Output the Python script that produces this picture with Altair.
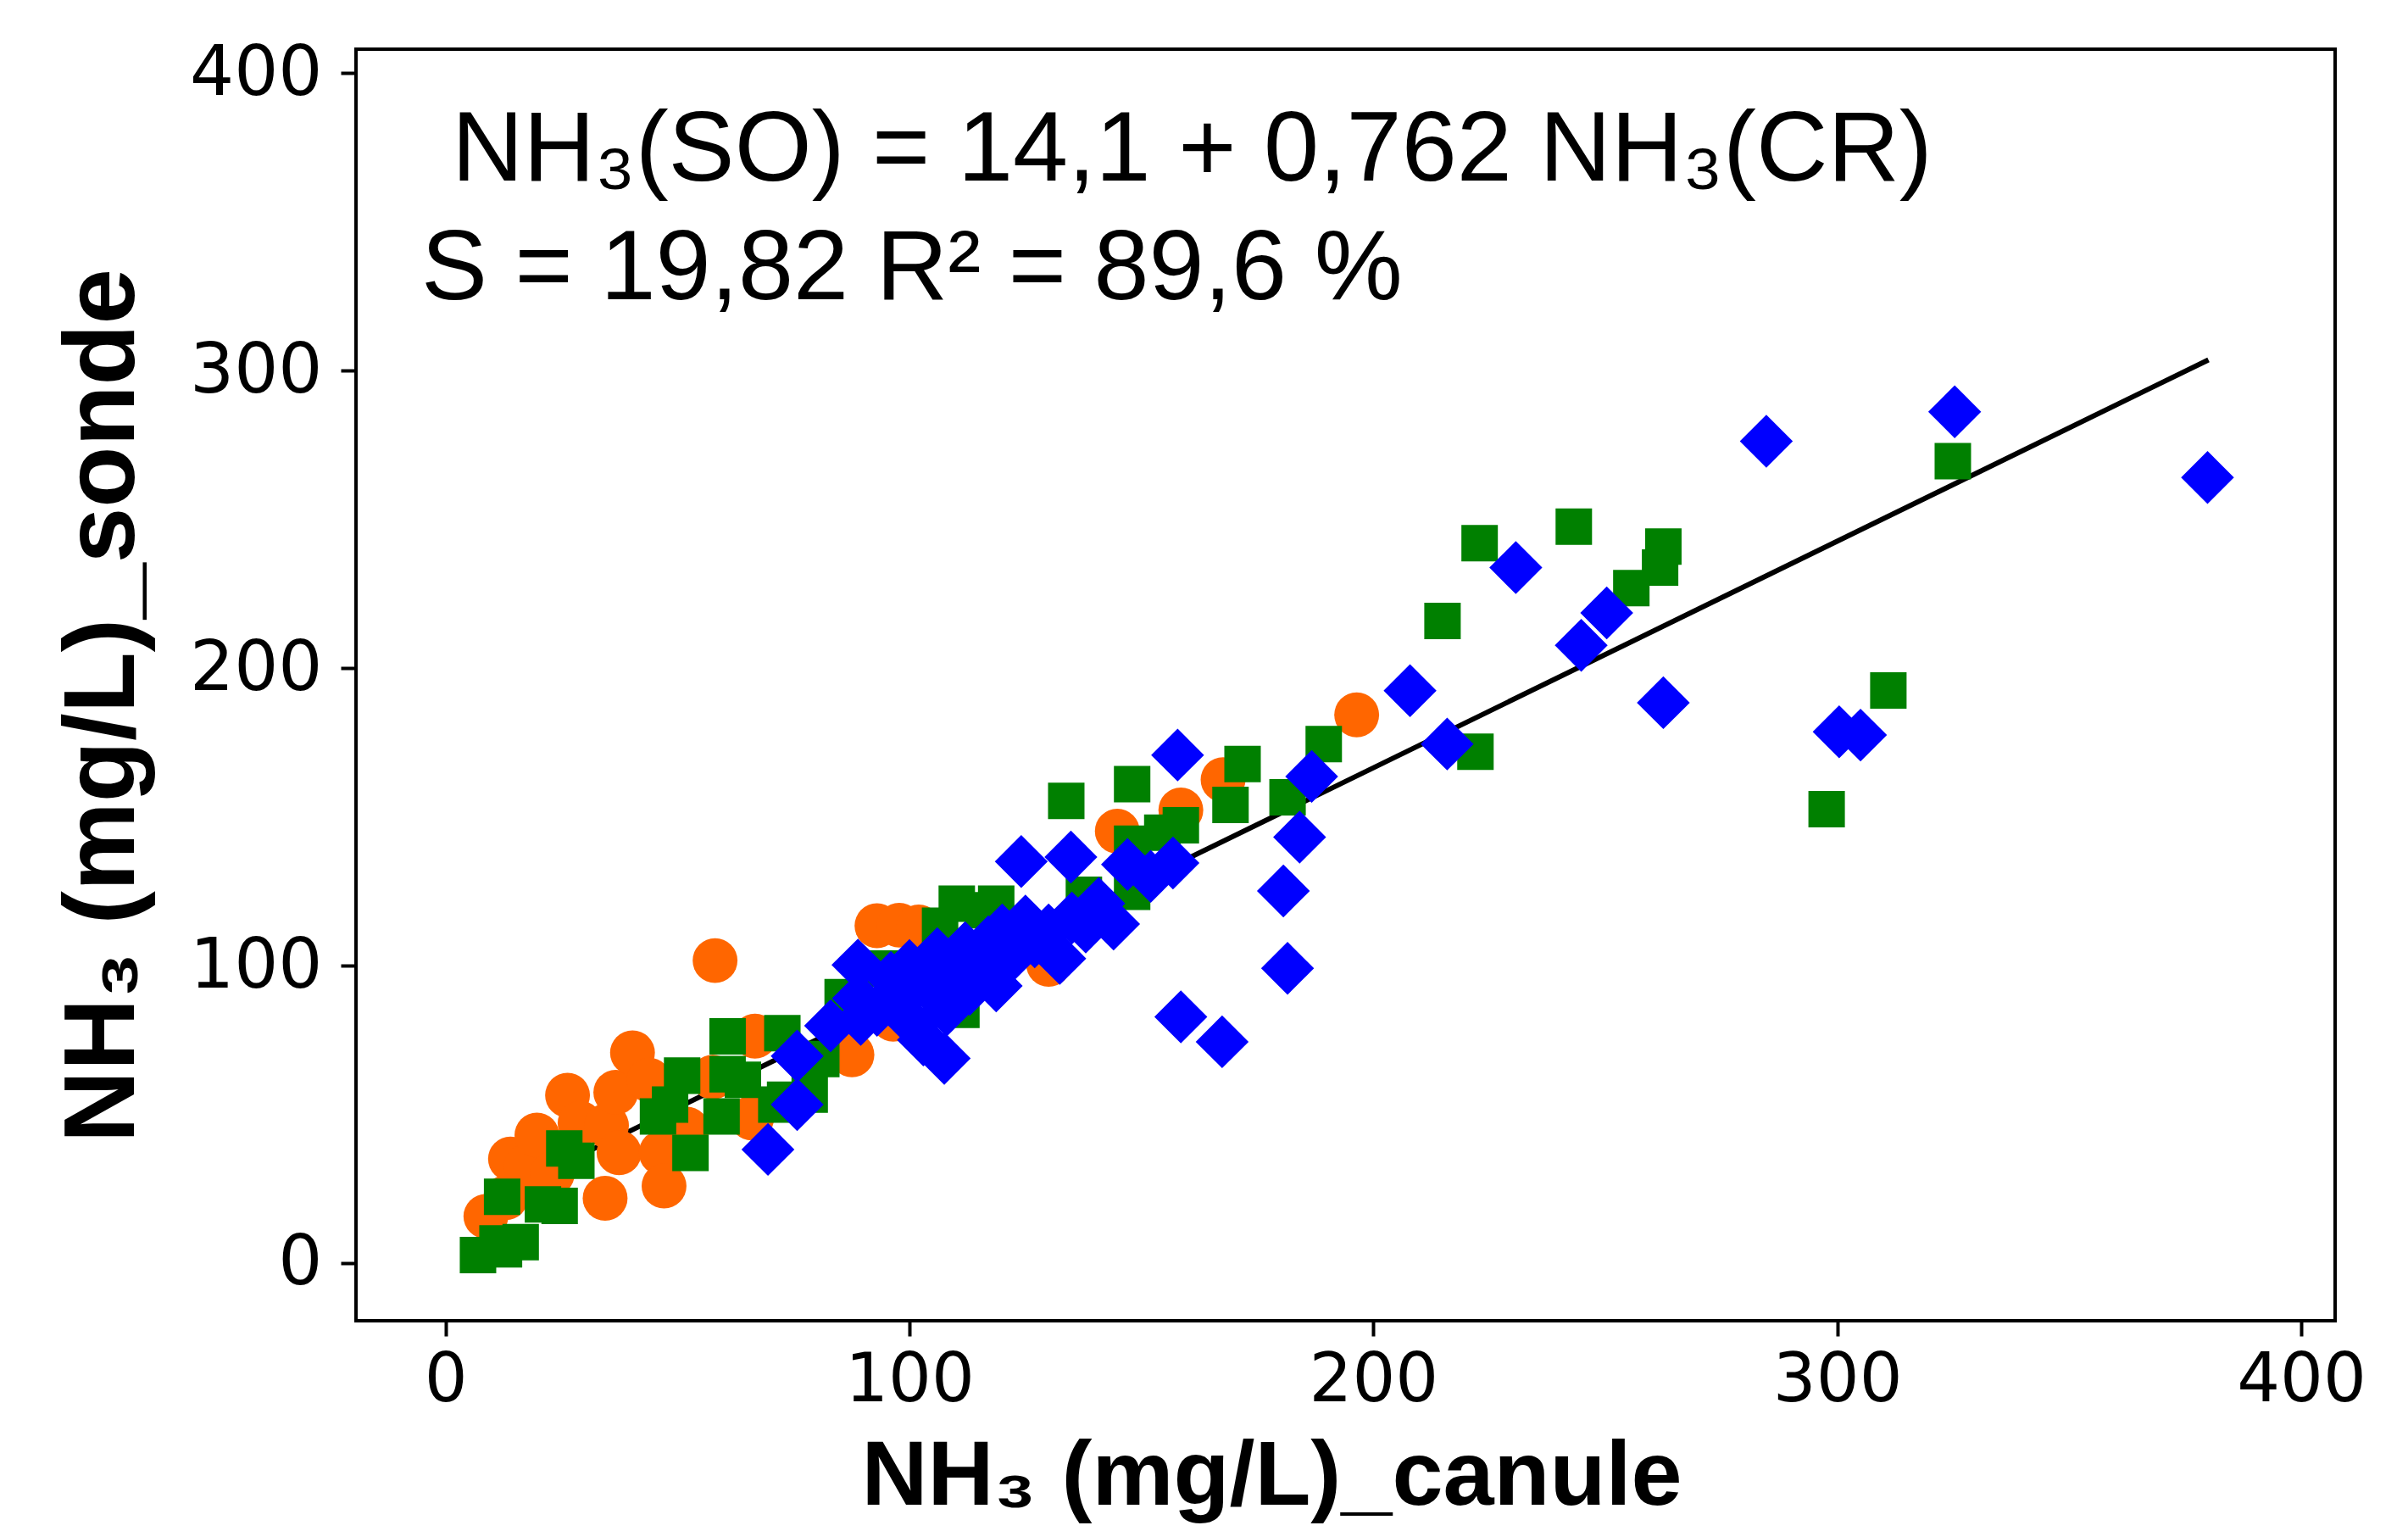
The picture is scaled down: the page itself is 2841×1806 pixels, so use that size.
import altair as alt
import pandas as pd

# ---------------- data ----------------
ORANGE_X = [8.7, 13, 14, 17.4, 19.7, 23, 26.3, 29, 34.4, 34.7, 36.7, 37.4, 40.3, 43.9, 46.5, 47.1,
            52, 57.6, 58.1, 66, 66.7, 87.6, 93, 96.5, 97.8, 102, 130, 144.8, 158.5, 167.6, 196.4]
ORANGE_Y = [15.7, 22, 35, 32.5, 43, 30, 56.4, 47, 21.8, 46.2, 57.4, 37.1, 70.7, 61.5, 37.1, 25.9,
            45, 62.5, 101.7, 48.8, 76.3, 70, 113.4, 82, 113.6, 113, 100.4, 145.2, 152.3, 162.5, 184.3]

GREEN_X = [7, 11.2, 12.6, 12.2, 16.2, 21, 24.6, 25.6, 28.2, 45.8, 48.4, 51, 52.8, 59.5, 60.8, 60.8,
           64.1, 71.3, 72.6, 73.2, 78.5, 81, 85.6, 94, 96.4, 106.6, 110.2, 111.2, 116, 118.7,
           133.8, 137.6, 148, 148, 148, 154.5, 158.5, 169.2, 171.8, 181.5, 189.3, 214.9, 222,
           222.9, 243.2, 255.6, 261.8, 262.5, 297.7, 311, 324.9]
GREEN_Y = [2.7, 6.6, 4.6, 22.3, 7, 19.7, 19.2, 38.5, 34.4, 49.3, 53.3, 63, 37, 49.3, 76.2, 63.5,
           61.6, 53.3, 77.3, 54.9, 56.6, 68.6, 89.4, 99, 92.6, 113.4, 120.8, 85.1, 118.6, 120.8,
           155.4, 123.8, 124.8, 141, 161, 144.7, 147.2, 154, 167.8, 156.6, 174.5, 215.9, 171.9,
           242, 247.6, 226.9, 233.8, 240.9, 152.6, 192.5, 269.6]

BLUE_X = [69.5, 75.8, 75.8, 83, 88.9, 89, 89.5, 93, 96, 98, 100, 101, 103, 104, 106, 107.5, 108,
          110, 112, 113, 115, 117, 118.7, 120, 122, 124.1, 125, 127, 130, 132.4, 134.8, 135, 138,
          140.8, 144, 147, 152, 156.8, 157.8, 158.5, 167.4, 180.6, 181.5, 184.1, 186.7, 207.9,
          215.9, 230.7, 244.8, 250.3, 262.5, 284.7, 300.4, 305, 325.3, 379.8]
BLUE_Y = [38.2, 53.3, 69.6, 79.8, 100.2, 89, 81.9, 85, 96, 88, 100, 80, 75, 93, 104, 68.8, 85,
          98, 106, 92, 102, 108, 93.2, 112, 103, 135, 115, 108, 112, 102.4, 136.5, 116, 113,
          120.9, 114, 134, 130, 134.5, 170.8, 82.8, 74.4, 125.1, 99.1, 143.2, 163.6, 192.4,
          174.5, 233.8, 207.7, 218.6, 188.4, 276.3, 178.6, 177.5, 286.2, 264.1]

# fitted line printed on the chart
FIT_INTERCEPT = 14.1
FIT_SLOPE = 0.762
FIT_X = [7, 380]

X_TICKS = [0, 100, 200, 300, 400]
Y_TICKS = [0, 100, 200, 300, 400]
X_TITLE = "NH₃ (mg/L)_canule"
Y_TITLE = "NH₃ (mg/L)_sonde"
EQ_LINE1 = "NH₃(SO) = 14,1 + 0,762 NH₃(CR)"
EQ_LINE2 = "S = 19,82 R² = 89,6 %"

X_DOMAIN = [-19.3, 407.3]
Y_DOMAIN = [-19.4, 408.1]

# ---------------- chart ----------------
orange = pd.DataFrame({"x": ORANGE_X, "y": ORANGE_Y})
green = pd.DataFrame({"x": GREEN_X, "y": GREEN_Y})
blue = pd.DataFrame({"x": BLUE_X, "y": BLUE_Y})
fit = pd.DataFrame({"x": FIT_X})

xs = alt.Scale(domain=X_DOMAIN, nice=False, zero=False)
ys = alt.Scale(domain=Y_DOMAIN, nice=False, zero=False)

x_axis = alt.Axis(values=X_TICKS, title=X_TITLE, grid=False, domain=False,
                  tickSize=18, tickWidth=4, tickColor="black",
                  labelFont="DejaVu Sans", labelFontSize=80, labelColor="black",
                  labelBaseline="alphabetic", labelPadding=76, labelFlush=False,
                  labelOverlap=False,
                  titleFont="Liberation Sans", titleFontWeight="bold", titleFontSize=108,
                  titleColor="black", titleX=1080, titleY=216, titleAlign="center",
                  titleBaseline="alphabetic")
y_axis = alt.Axis(values=Y_TICKS, title=Y_TITLE, grid=False, domain=False,
                  tickSize=18, tickWidth=4, tickColor="black",
                  labelFont="DejaVu Sans", labelFontSize=82, labelColor="black",
                  labelBaseline="middle", labelAlign="right", labelPadding=22,
                  labelFlush=False, labelOverlap=False,
                  titleFont="Liberation Sans", titleFontWeight="bold", titleFontSize=118,
                  titleColor="black", titleAngle=270, titleX=-263, titleY=774,
                  titleAlign="center", titleBaseline="alphabetic")

X = alt.X("x:Q", scale=xs, axis=x_axis)
Y = alt.Y("y:Q", scale=ys, axis=y_axis)

fit_line = alt.Chart(fit).transform_calculate(
    y=f"{FIT_INTERCEPT} + {FIT_SLOPE} * datum.x"
).mark_line(color="black", strokeWidth=6).encode(x=X, y=Y)

pts_orange = alt.Chart(orange).mark_point(
    shape="circle", filled=True, size=2800, color="#FF6600", opacity=1, strokeWidth=0
).encode(x=X, y=Y)
pts_green = alt.Chart(green).mark_point(
    shape="square", filled=True, size=1850, color="#008000", opacity=1, strokeWidth=0
).encode(x=X, y=Y)
pts_blue = alt.Chart(blue).mark_point(
    shape="diamond", filled=True, size=3900, color="#0000FF", opacity=1, strokeWidth=0
).encode(x=X, y=Y)

txt1 = alt.Chart(alt.Data(values=[{"t": EQ_LINE1}])).mark_text(
    font="Liberation Sans", fontSize=117, color="black", align="left", baseline="alphabetic"
).encode(x=alt.value(113), y=alt.value(155), text="t:N")
txt2 = alt.Chart(alt.Data(values=[{"t": EQ_LINE2}])).mark_text(
    font="Liberation Sans", fontSize=117, color="black", align="left", baseline="alphabetic"
).encode(x=alt.value(77), y=alt.value(295), text="t:N")

chart = alt.layer(fit_line, pts_orange, pts_green, pts_blue, txt1, txt2).properties(
    width=2335, height=1500,
    autosize=alt.AutoSizeParams(type="none"),
    padding={"left": 412, "top": 50, "right": 70, "bottom": 240},
    background="white",
).configure_view(stroke="black", strokeWidth=4)

chart.save("out.html", embed_options={"renderer": "svg", "actions": False})
